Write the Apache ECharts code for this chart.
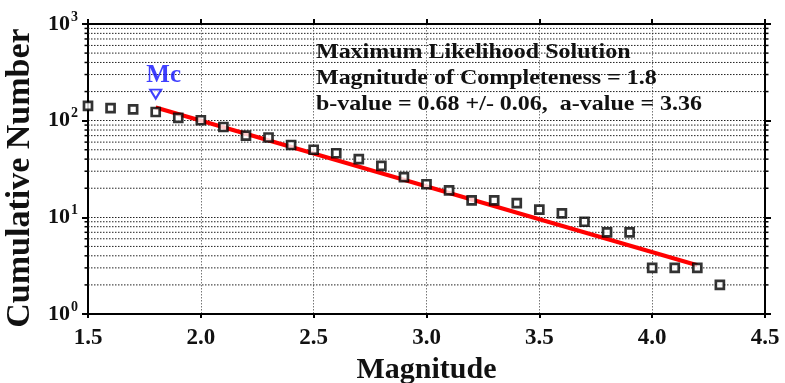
<!DOCTYPE html>
<html>
<head>
<meta charset="utf-8">
<script src="https://cdn.jsdelivr.net/npm/echarts@6/dist/echarts.min.js"></script>
<style>
  html, body { margin: 0; padding: 0; background: #fff; }
  #chart { width: 785px; height: 383px; }
</style>
</head>
<body>
<div id="chart"></div>
<script>
// Frequency-magnitude distribution (cumulative counts per 0.1 magnitude bin)
const magnitudes = [1.5, 1.6, 1.7, 1.8, 1.9, 2.0, 2.1, 2.2, 2.3, 2.4, 2.5, 2.6, 2.7, 2.8, 2.9,
                    3.0, 3.1, 3.2, 3.3, 3.4, 3.5, 3.6, 3.7, 3.8, 3.9, 4.0, 4.1, 4.2, 4.3];
const cumulativeCounts = [142, 135, 131, 123, 107, 101, 86, 70, 67, 56, 50, 46, 40, 34, 26,
                          22, 19, 15, 15, 14, 12, 11, 9, 7, 7, 3, 3, 3, 2];

// Maximum likelihood fit
const magnitudeOfCompleteness = 1.8;
const bValue = 0.68;
const bError = 0.06;
const aValue = 3.36;
const fitMagnitudes = [1.8, 4.2];
const mcMarkerCount = 188;

// Axes
const xRange = [1.5, 4.5];
const xStep = 0.5;
const yRange = [1, 1000];
const minorGridValues = [2, 3, 4, 5, 6, 7, 8, 9,
                         20, 30, 40, 50, 60, 70, 80, 90,
                         200, 300, 400, 500, 600, 700, 800, 900];

const annotationLines = [
  'Maximum Likelihood Solution',
  'Magnitude of Completeness = ' + magnitudeOfCompleteness.toFixed(1),
  'b-value = ' + bValue.toFixed(2) + ' +/- ' + bError.toFixed(2) + ',  a-value = ' + aValue.toFixed(2)
];

const FONT = '"Liberation Serif", "Times New Roman", serif';

// Gutenberg-Richter line: log10 N = a - b M
const fitLine = fitMagnitudes.map(m => [m, Math.pow(10, aValue - bValue * m)]);
const observed = magnitudes.map((m, i) => [m, cumulativeCounts[i]]);

const chart = echarts.init(document.getElementById('chart'), null, { renderer: 'canvas' });

const axisLine = { show: true, lineStyle: { color: '#000', width: 2 } };

chart.setOption({
  animation: false,
  backgroundColor: '#fff',
  grid: { left: 88, right: 20, top: 24, bottom: 69, containLabel: false, outerBoundsMode: 'none' },
  xAxis: [{
    type: 'value',
    min: xRange[0], max: xRange[1], interval: xStep,
    axisLine: axisLine,
    axisTick: { show: true, inside: false, length: 4, lineStyle: { color: '#000', width: 2 } },
    axisLabel: {
      margin: 13,
      formatter: v => v.toFixed(1),
      fontFamily: FONT, fontWeight: 'bold', fontSize: 23, color: '#111'
    },
    splitLine: { show: true, lineStyle: { color: '#777', width: 1, type: [1.5, 1.5] } },
    name: 'Magnitude',
    nameLocation: 'middle',
    nameGap: 38,
    nameTextStyle: { fontFamily: FONT, fontWeight: 'bold', fontSize: 30, color: '#111' }
  }, {
    type: 'value',
    position: 'top',
    min: xRange[0], max: xRange[1], interval: xStep,
    axisLine: axisLine,
    axisTick: { show: true, inside: false, length: 5, lineStyle: { color: '#000', width: 2 } },
    axisLabel: { show: false },
    splitLine: { show: false }
  }],
  yAxis: [{
    type: 'log', logBase: 10,
    min: yRange[0], max: yRange[1],
    axisLine: axisLine,
    axisTick: { show: true, inside: false, length: 6, lineStyle: { color: '#000', width: 2 } },
    axisLabel: {
      margin: 10,
      formatter: v => '{b|10}{s|' + Math.round(Math.log10(v)) + '}',
      rich: {
        b: { fontFamily: FONT, fontWeight: 'bold', fontSize: 22, color: '#111' },
        s: { fontFamily: FONT, fontWeight: 'bold', fontSize: 14, color: '#111', padding: [0, 0, 14, 1] }
      }
    },
    splitLine: { show: true, lineStyle: { color: '#222', width: 1, type: [1.5, 1.5] } },
    name: 'Cumulative Number',
    nameLocation: 'middle',
    nameGap: 50,
    nameTextStyle: { fontFamily: FONT, fontWeight: 'bold', fontSize: 34, color: '#111', padding: [0, 18, 0, 0] }
  }, {
    type: 'log', logBase: 10,
    position: 'right',
    min: yRange[0], max: yRange[1],
    axisLine: axisLine,
    axisTick: { show: true, inside: false, length: 6, lineStyle: { color: '#000', width: 2 } },
    axisLabel: { show: false },
    splitLine: { show: false }
  }],
  graphic: annotationLines.map((t, i) => ({
    type: 'text',
    x: 316,
    y: [52.5, 78, 104.5][i],
    scaleX: 1.09,
    z: 100,
    style: {
      text: t,
      font: 'bold 22px ' + FONT,
      fill: '#111',
      textAlign: 'left',
      textVerticalAlign: 'middle'
    }
  })),
  series: [
    {
      // minor log gridlines with short ticks on both vertical axes
      type: 'custom',
      silent: true,
      z: 1,
      clip: false,
      xAxisIndex: 0, yAxisIndex: 0,
      encode: { x: 0, y: 1 },
      data: minorGridValues.map(v => [xRange[0], v]),
      renderItem: (params, api) => {
        const v = api.value(1);
        const l = api.coord([xRange[0], v]);
        const r = api.coord([xRange[1], v]);
        return {
          type: 'group',
          children: [
            { type: 'line', shape: { x1: l[0], y1: l[1], x2: r[0], y2: r[1] },
              style: { stroke: '#222', lineWidth: 1, lineDash: [1.5, 1.5] } },
            { type: 'line', shape: { x1: l[0] - 3.5, y1: l[1], x2: l[0], y2: l[1] },
              style: { stroke: '#000', lineWidth: 1.5 } },
            { type: 'line', shape: { x1: r[0], y1: r[1], x2: r[0] + 3.5, y2: r[1] },
              style: { stroke: '#000', lineWidth: 1.5 } }
          ]
        };
      }
    },
    {
      name: 'Fit',
      type: 'line',
      data: fitLine,
      symbol: 'none',
      z: 3,
      lineStyle: { color: '#ff0000', width: 4 }
    },
    {
      name: 'Observed',
      type: 'scatter',
      data: observed,
      symbol: 'rect',
      symbolSize: 8,
      z: 4,
      itemStyle: { color: '#fff', borderColor: '#000', borderWidth: 2.7 }
    },
    {
      name: 'Mc',
      type: 'scatter',
      data: [[magnitudeOfCompleteness, mcMarkerCount]],
      symbol: 'triangle',
      symbolRotate: 180,
      symbolSize: [11, 9],
      z: 5,
      itemStyle: { color: '#fff', borderColor: '#1010ff', borderWidth: 2 },
      label: {
        show: true,
        formatter: 'Mc',
        position: 'top',
        distance: 1,
        offset: [8, 0],
        fontFamily: FONT, fontWeight: 'bold', fontSize: 25, color: '#1010ff'
      }
    }
  ]
});
</script>
</body>
</html>
